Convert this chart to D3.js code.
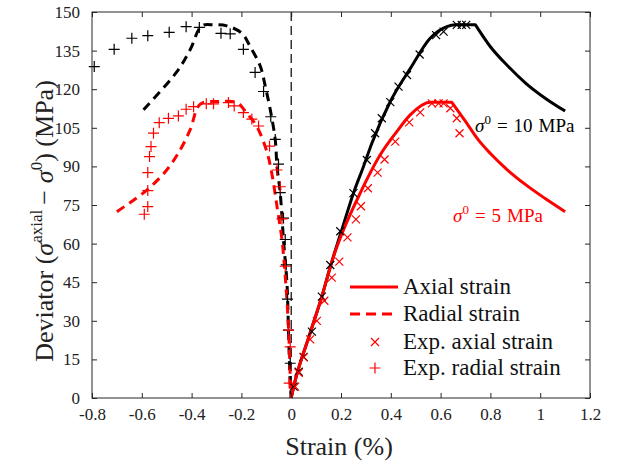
<!DOCTYPE html>
<html>
<meta charset="utf-8">
<title>deviator vs strain</title>
<style>
html,body{ margin:0; background:#fff; }
text { font-family: "Liberation Serif", "Times New Roman", serif; }
</style>
<script src="https://d3js.org/d3.v7.min.js"></script>
<body>
<script>

// ---- data (strain %, deviator MPa) ----
var axial10X = [0, 0.01, 0.076, 0.123, 0.157, 0.203, 0.25, 0.29, 0.324, 0.398, 0.478, 0.558, 0.625, 0.66, 0.74, 0.8, 0.87, 0.94, 1.02, 1.1];
var axial10Y = [0, 4.4, 25.2, 39.4, 51, 65.3, 79.6, 89.9, 99, 115.2, 128, 139.8, 144.3, 145, 145, 136.5, 129, 122.5, 116.5, 111.5];

var axial5X = [0, 0.01, 0.076, 0.123, 0.17, 0.21, 0.277, 0.357, 0.424, 0.478, 0.558, 0.645, 0.7, 0.75, 0.8, 0.87, 0.94, 1.02, 1.1];
var axial5Y = [0, 4.4, 25.2, 39.4, 55, 65.3, 79.6, 94.4, 103.5, 110, 114.9, 114.9, 107.5, 100.5, 95, 88.5, 83, 77.5, 72.4];

var radial10X = [-0.593, -0.459, -0.406, -0.359, -0.31, -0.258, -0.198, -0.165, -0.124, -0.104, -0.084, -0.064, -0.057, -0.044, -0.031, -0.017, -0.011, -0.004, 0];
var radial10Y = [112, 126.8, 135.3, 144.6, 145, 144.6, 141.7, 136.6, 128.9, 121.1, 112, 100.3, 89.9, 79.6, 61.4, 44.6, 26.4, 5.8, 0];

var radial5X = [-0.70, -0.58, -0.5, -0.446, -0.406, -0.365, -0.29, -0.218, -0.178, -0.138, -0.098, -0.078, -0.057, -0.037, -0.024, -0.011, -0.003, 0];
var radial5Y = [72.4, 80.8, 88.6, 96.4, 104.2, 114.2, 115.2, 114.8, 110.6, 105.5, 95.8, 87.3, 74.4, 61.4, 47.3, 27.7, 6, 0];

var expAx10X = [0.01, 0.03, 0.05, 0.083, 0.123, 0.157, 0.197, 0.25, 0.304, 0.337, 0.364, 0.398, 0.431, 0.465, 0.516, 0.582, 0.612, 0.665, 0.685, 0.703];
var expAx10Y = [4.4, 10.2, 16, 25.8, 39.4, 51.7, 64.8, 79.6, 92.5, 102.9, 108.7, 115, 121, 125.5, 133.5, 141, 142.4, 145, 145, 145];

var expAx5X = [0.016, 0.03, 0.05, 0.076, 0.103, 0.133, 0.163, 0.193, 0.226, 0.26, 0.28, 0.308, 0.347, 0.375, 0.418, 0.474, 0.518, 0.565, 0.592, 0.612, 0.639, 0.665, 0.676];
var expAx5Y = [4.4, 9.8, 15.8, 22.8, 30, 37.8, 46.8, 53, 62.4, 69.4, 74.5, 81.5, 87.6, 92.7, 99.6, 107.1, 111, 114.5, 114.5, 114.5, 112.6, 108.7, 102.9];

var expRad10X = [-0.791, -0.711, -0.64, -0.576, -0.49, -0.422, -0.369, -0.282, -0.245, -0.192, -0.145, -0.111, -0.082, -0.064, -0.051, -0.044, -0.031, -0.024, -0.02, -0.015, -0.011, -0.004];
var expRad10Y = [128.8, 135.5, 139.8, 140.8, 142.1, 144.3, 144, 141.7, 141.5, 135.5, 126.5, 119.1, 109.3, 100.5, 90.9, 79.8, 69.9, 61.6, 51.7, 38.4, 26.4, 13.5];

var expRad5X = [-0.59, -0.576, -0.576, -0.576, -0.569, -0.563, -0.553, -0.53, -0.493, -0.453, -0.422, -0.392, -0.341, -0.312, -0.252, -0.229, -0.192, -0.158, -0.131, -0.087, -0.057, -0.044, -0.037, -0.024, -0.011, -0.004, -0.008];
var expRad5Y = [71.4, 74.4, 80.6, 87.6, 93.8, 97.7, 102.9, 107, 108.7, 109.6, 112.2, 113.2, 114.3, 114.3, 114.8, 113.5, 110.9, 108.4, 105.7, 97.9, 88.6, 82.1, 69.6, 51.2, 26.4, 19.9, 5.8];

var xTicks = [-0.8, -0.6, -0.4, -0.2, 0, 0.2, 0.4, 0.6, 0.8, 1, 1.2];
var yTicks = [0, 15, 30, 45, 60, 75, 90, 105, 120, 135, 150];

var legendLabels = ["Axial strain", "Radial strain", "Exp. axial strain", "Exp. radial strain"];

// ---- layout ----
var width = 628, height = 465;
var mLeft = 92, mRight = 590, mTop = 12, mBottom = 398;

var svg = d3.select("body").append("svg")
    .attr("width", width)
    .attr("height", height);

var x = d3.scaleLinear().domain([-0.8, 1.2]).range([mLeft, mRight]);
var y = d3.scaleLinear().domain([0, 150]).range([mBottom, mTop]);

function zip(xs, ys) { return xs.map(function(v, i) { return [v, ys[i]]; }); }

var line = d3.line()
    .x(function(d) { return x(d[0]); })
    .y(function(d) { return y(d[1]); })
    .curve(d3.curveMonotoneX);

var lineR = d3.line()
    .x(function(d) { return x(d[0]); })
    .y(function(d) { return y(d[1]); })
    .curve(d3.curveCatmullRom);

var plot = svg.append("g");

// dashed zero line
plot.append("line")
    .attr("x1", x(0)).attr("x2", x(0))
    .attr("y1", y(150)).attr("y2", y(0))
    .attr("stroke", "#000").attr("stroke-width", 1.2)
    .attr("stroke-dasharray", "9,5");

function drawLine(data, color, dashed, gen) {
  plot.append("path")
      .datum(data)
      .attr("d", gen)
      .attr("fill", "none")
      .attr("stroke", color)
      .attr("stroke-width", 3)
      .attr("stroke-linejoin", "round")
      .attr("stroke-dasharray", dashed ? "9,6" : null);
}

// axial curves: hardening part and softening part meet in a corner
function drawAxial(data, color) {
  var ymax = d3.max(data, function(d) { return d[1]; });
  var k = 0;
  data.forEach(function(d, i) { if (d[1] == ymax) k = i; });
  plot.append("path")
      .attr("d", line(data.slice(0, k + 1)) + line(data.slice(k)).replace(/^M/, "L"))
      .attr("fill", "none")
      .attr("stroke", color)
      .attr("stroke-width", 3)
      .attr("stroke-linejoin", "round");
}

function crossPath(cx, cy, s) {
  return "M" + (cx - s) + "," + (cy - s) + "L" + (cx + s) + "," + (cy + s) +
         "M" + (cx - s) + "," + (cy + s) + "L" + (cx + s) + "," + (cy - s);
}
function plusPath(cx, cy, s) {
  return "M" + (cx - s) + "," + cy + "L" + (cx + s) + "," + cy +
         "M" + cx + "," + (cy - s) + "L" + cx + "," + (cy + s);
}

function drawMarks(data, color, kind) {
  plot.append("g").selectAll("path")
      .data(data)
    .enter().append("path")
      .attr("d", function(d) {
        return kind == "x" ? crossPath(x(d[0]), y(d[1]), 4) : plusPath(x(d[0]), y(d[1]), 5.5);
      })
      .attr("fill", "none")
      .attr("stroke", color)
      .attr("stroke-width", 1.2);
}

drawLine(zip(radial10X, radial10Y), "#000", true, lineR);
drawLine(zip(radial5X, radial5Y), "#ff0000", true, lineR);
drawAxial(zip(axial10X, axial10Y), "#000");
drawAxial(zip(axial5X, axial5Y), "#ff0000");

drawMarks(zip(expRad10X, expRad10Y), "#000", "+");
drawMarks(zip(expAx10X, expAx10Y), "#000", "x");
drawMarks(zip(expRad5X, expRad5Y), "#ff0000", "+");
drawMarks(zip(expAx5X, expAx5Y), "#ff0000", "x");

// ---- axes box with inward ticks ----
var axisColor = "#262626";
svg.append("rect")
    .attr("x", mLeft).attr("y", mTop)
    .attr("width", mRight - mLeft).attr("height", mBottom - mTop)
    .attr("fill", "none").attr("stroke", axisColor).attr("stroke-width", 1);

var tl = 5;
var xb = svg.append("g").attr("transform", "translate(0," + mBottom + ")")
    .call(d3.axisBottom(x).tickValues(xTicks).tickSizeInner(-tl).tickSizeOuter(0).tickPadding(10)
      .tickFormat(function(d) { return d3.format("")(d).replace("−", "-"); }));
var xt = svg.append("g").attr("transform", "translate(0," + mTop + ")")
    .call(d3.axisTop(x).tickValues(xTicks).tickSizeInner(-tl).tickSizeOuter(0).tickFormat(""));
var yl = svg.append("g").attr("transform", "translate(" + mLeft + ",0)")
    .call(d3.axisLeft(y).tickValues(yTicks).tickSizeInner(-tl).tickSizeOuter(0).tickPadding(12));
var yr = svg.append("g").attr("transform", "translate(" + mRight + ",0)")
    .call(d3.axisRight(y).tickValues(yTicks).tickSizeInner(-tl).tickSizeOuter(0).tickFormat(""));

[xb, xt, yl, yr].forEach(function(g) {
  g.select(".domain").remove();
  g.selectAll(".tick line").attr("stroke", axisColor);
  g.selectAll("text").attr("fill", "#222").style("font-size", "17px")
    .style("font-family", "'Liberation Serif', serif");
});

// ---- axis titles ----
svg.append("text")
    .attr("x", 339).attr("y", 455)
    .attr("text-anchor", "middle")
    .style("font-size", "26px").attr("fill", "#222")
    .text("Strain (%)");

var yt = svg.append("text")
    .attr("transform", "translate(53,221) rotate(-90)")
    .attr("text-anchor", "middle")
    .style("font-size", "26px").attr("fill", "#222");
yt.append("tspan").text("Deviator (");
yt.append("tspan").style("font-style", "italic").text("σ");
yt.append("tspan").attr("dy", -11).style("font-size", "17px").text("axial");
yt.append("tspan").attr("dy", 11).attr("dx", 5).text("−");
yt.append("tspan").attr("dx", 7).style("font-style", "italic").text("σ");
yt.append("tspan").attr("dy", -11).style("font-size", "17px").text("0");
yt.append("tspan").attr("dy", 11).text(") (MPa)");

// ---- annotations ----
function sigmaLabel(px, py, color, val) {
  var t = svg.append("text").attr("x", px).attr("y", py)
      .style("font-size", "19px").attr("fill", color);
  t.append("tspan").style("font-style", "italic").text("σ");
  t.append("tspan").attr("dy", -8).style("font-size", "13px").text("0");
  t.append("tspan").attr("dy", 8).attr("dx", 6).text("=");
  t.append("tspan").attr("dx", 6).text(val);
  t.append("tspan").attr("dx", 6).text("MPa");
}
sigmaLabel(475, 132, "#000", 10);
sigmaLabel(453, 222, "#ff0000", 5);

// ---- legend ----
var leg = svg.append("g");
var legY = [287, 314, 342, 368];
legendLabels.forEach(function(lbl, i) {
  var ly = legY[i];
  if (i < 2) {
    leg.append("line")
        .attr("x1", 350).attr("x2", 398).attr("y1", ly).attr("y2", ly)
        .attr("stroke", "#ff0000").attr("stroke-width", 3)
        .attr("stroke-dasharray", i == 1 ? "10,6" : null);
  } else {
    leg.append("path")
        .attr("d", i == 2 ? crossPath(375, ly, 4) : plusPath(375, ly, 5.5))
        .attr("fill", "none").attr("stroke", "#ff0000").attr("stroke-width", 1.2);
  }
  leg.append("text")
      .attr("x", 403).attr("y", ly + 7)
      .style("font-size", "23px").attr("fill", "#111")
      .text(lbl);
});

</script>
</body>
</html>
